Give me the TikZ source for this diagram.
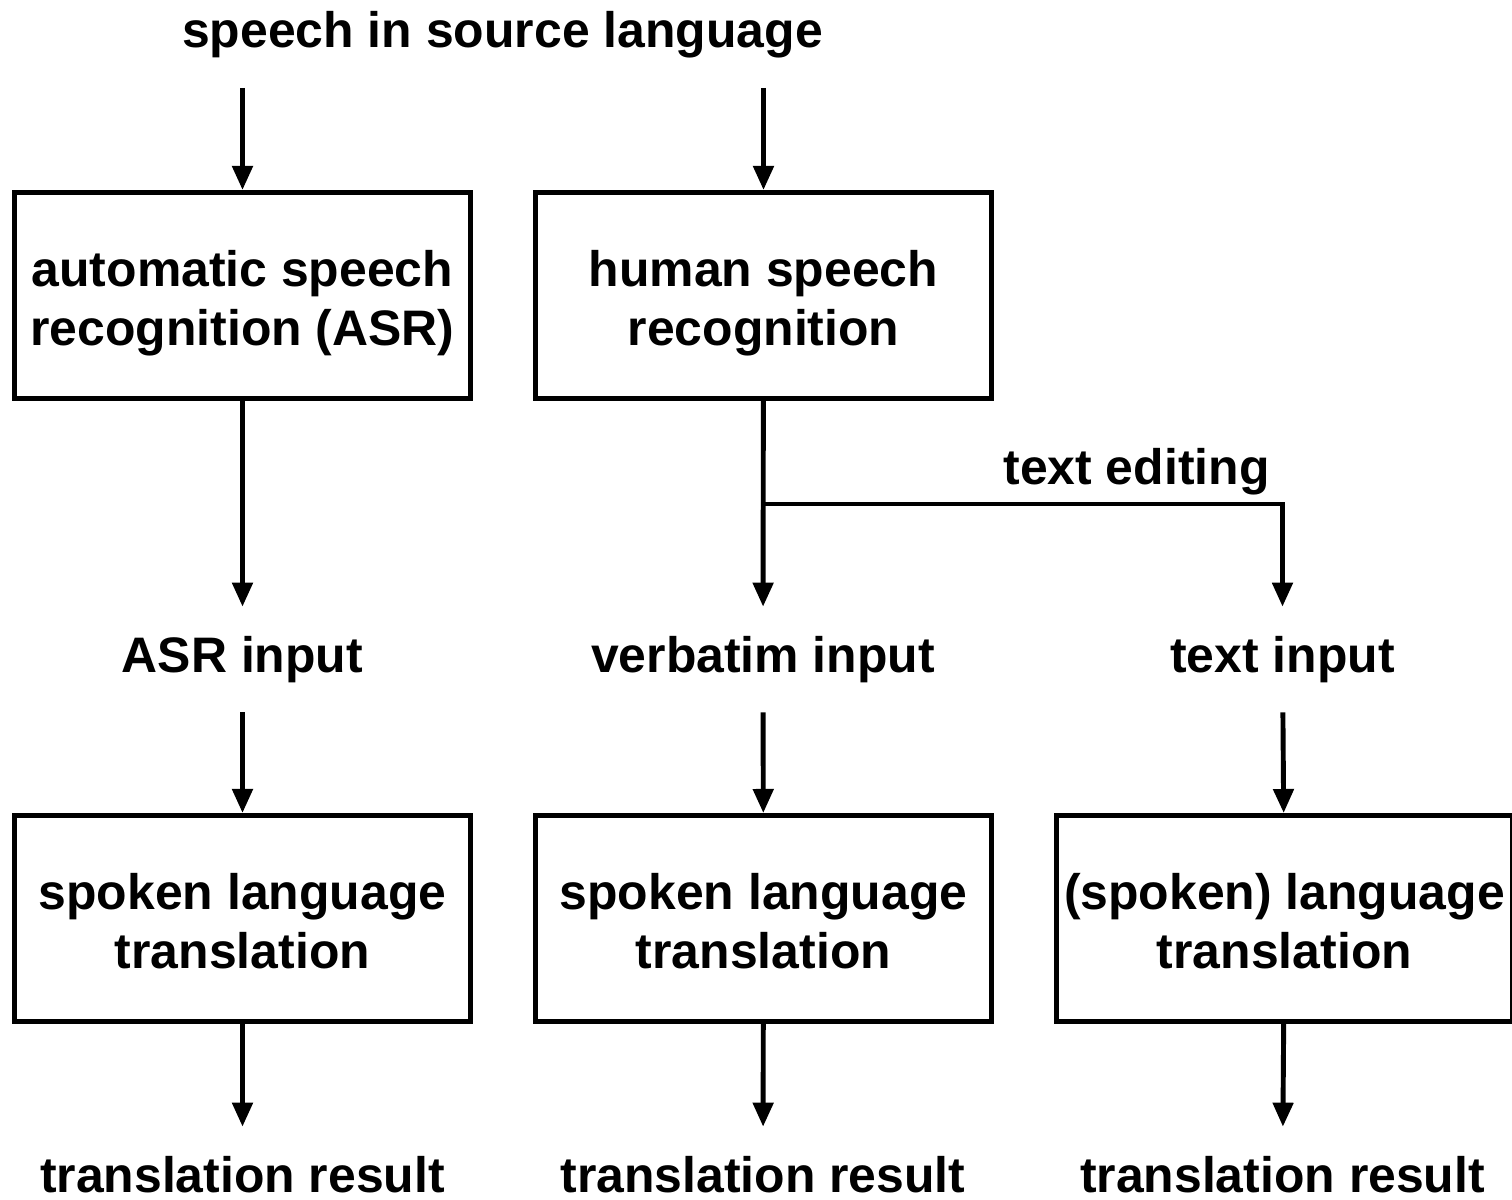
\documentclass[tikz,border=0pt]{standalone}
\usepackage{fontspec}
\setmainfont{Liberation Sans}
\usetikzlibrary{positioning,arrows.meta}

\begin{document}
\begin{tikzpicture}[
    x=0.02cm, y=-0.02cm,
    box/.style={rectangle, draw=black, line width=2.9pt,
                minimum width=9.12cm, minimum height=4.12cm,
                text height=2.32cm, text depth=0.3cm,
                align=center, font=\bfseries\fontsize{28.4}{34}\selectfont},
    lbl/.style={rectangle, minimum height=2.1cm, inner sep=0pt,
                text height=0.72cm, text depth=0.2cm,
                font=\bfseries\fontsize{28.4}{34}\selectfont},
    arrow/.style={-{Triangle[width=0.4cm, length=0.48cm]}, line width=2.8pt}
]
    \useasboundingbox (0,0) rectangle (1512,1200);

    % top row
    \node[lbl] (src) at (502.5,35) {speech in source language};
    \node[box] (asr) at (242.5,295.5) {automatic speech\\recognition (ASR)};
    \node[box, right=1.2cm of asr] (hsr) {human speech\\recognition};

    % inputs
    \node[lbl] (asrin) at (242.5,659.5) {ASR input};
    \node[lbl] (verbin) at (763,659.5) {verbatim input};
    \node[lbl] (textin) at (1282.5,659.5) {text input};

    % translation
    \node[box] (slt1) at (242.5,918.5) {spoken language\\translation};
    \node[box, right=1.2cm of slt1] (slt2) {spoken language\\translation};
    \node[box, right=1.2cm of slt2] (slt3) {(spoken) language\\translation};

    \node[lbl] (res1) at (242.5,1179.5) {translation result};
    \node[lbl] (res2) at (763,1179.5) {translation result};
    \node[lbl] (res3) at (1282.5,1179.5) {translation result};

    \draw[arrow] (src.south -| asr.north) -- (asr);
    \draw[arrow] (src.south -| hsr.north) -- (hsr);
    \draw[arrow] (asr) -- (asrin);
    \draw[arrow] (hsr) -- (verbin);

    \coordinate (split) at (hsr.south |- 0,504);
    \draw[arrow] (split) -| (textin);
    \node[anchor=base, font=\bfseries\fontsize{28.4}{34}\selectfont]
        (edit) at (1136.5,484) {text editing};

    \draw[arrow] (asrin) -- (slt1);
    \draw[arrow] (verbin) -- (slt2);
    \draw[arrow] (textin) -- (slt3);
    \draw[arrow] (slt1) -- (res1);
    \draw[arrow] (slt2) -- (res2);
    \draw[arrow] (slt3) -- (res3);
\end{tikzpicture}
\end{document}
